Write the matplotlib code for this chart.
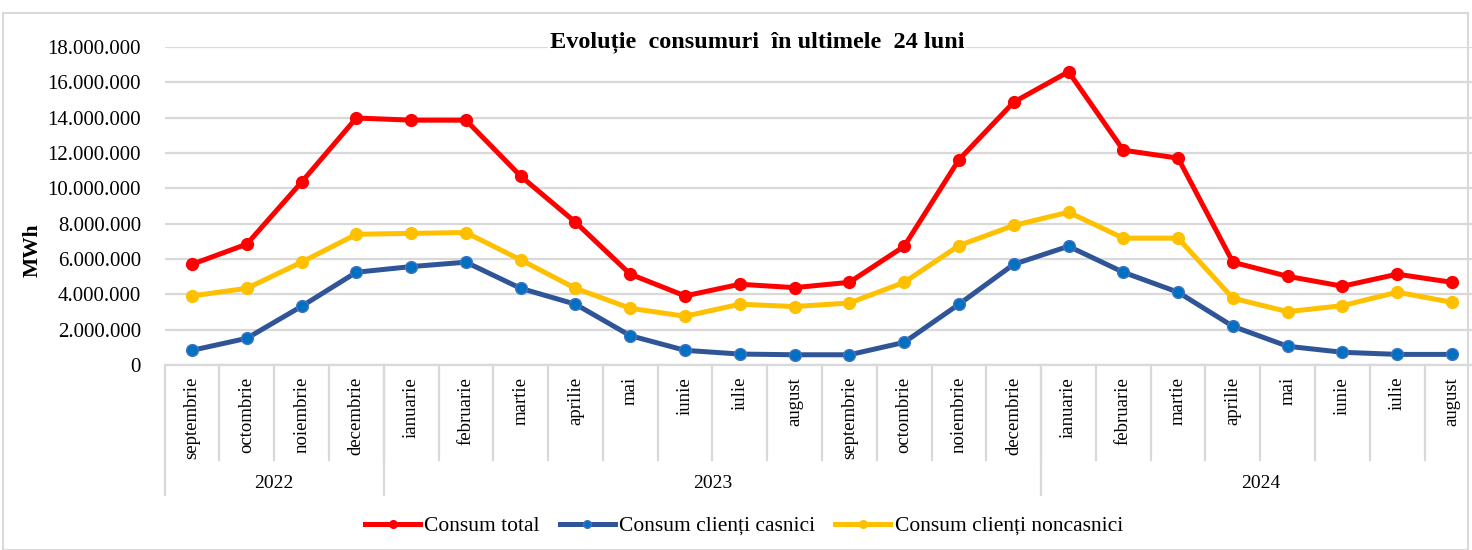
import numpy as np
import matplotlib
matplotlib.use('Agg')
import matplotlib.pyplot as plt
from matplotlib.patches import Rectangle
from matplotlib.lines import Line2D

plt.rcParams['font.family'] = ['Liberation Serif', 'DejaVu Serif']

# ── Données (MWh) ─────────────────────────────────────────────
luni = ["septembrie", "octombrie", "noiembrie", "decembrie",
        "ianuarie", "februarie", "martie", "aprilie", "mai", "iunie", "iulie", "august",
        "septembrie", "octombrie", "noiembrie", "decembrie",
        "ianuarie", "februarie", "martie", "aprilie", "mai", "iunie", "iulie", "august"]
ani = ["2022", "2023", "2024"]
luni_pe_an = [4, 12, 8]

consum_total = [5.70, 6.84, 10.35, 13.98, 13.86, 13.86, 10.69, 8.08, 5.14, 3.91, 4.57, 4.38,
                4.68, 6.72, 11.62, 14.88, 16.60, 12.16, 11.71, 5.82, 5.02, 4.46, 5.14, 4.68]
consum_casnici = [0.83, 1.51, 3.32, 5.25, 5.57, 5.82, 4.34, 3.44, 1.66, 0.83, 0.62, 0.58,
                  0.58, 1.28, 3.44, 5.70, 6.72, 5.25, 4.12, 2.19, 1.06, 0.72, 0.60, 0.60]
consum_noncasnici = [3.91, 4.34, 5.82, 7.40, 7.45, 7.50, 5.95, 4.34, 3.21, 2.76, 3.44, 3.31,
                     3.51, 4.68, 6.76, 7.90, 8.65, 7.18, 7.18, 3.78, 3.02, 3.36, 4.12, 3.55]

consum_total = np.array(consum_total) * 1e6
consum_casnici = np.array(consum_casnici) * 1e6
consum_noncasnici = np.array(consum_noncasnici) * 1e6

GRID = "#D9D9D9"
fig = plt.figure(figsize=(14.72, 5.5), dpi=100)
# la zone de tracé dépasse légèrement à droite (graphique rogné)
ax = fig.add_axes([164.6/1472, 1 - 365/550, (1479.4-164.6)/1472, (365-47)/550])

x = np.arange(len(luni))
ax.plot(x, consum_total, color="#FF0000", lw=3.6, marker="o", ms=8.5,
        mfc="#FF0000", mec="#FF0000", zorder=4)
ax.plot(x, consum_casnici, color="#2F5597", lw=3.6, marker="o", ms=8.5,
        mfc="#0070C0", mec="#4472C4", mew=1, zorder=4)
ax.plot(x, consum_noncasnici, color="#FFC000", lw=3.6, marker="o", ms=8.5,
        mfc="#FFC000", mec="#FFC000", zorder=4)

ax.set_xlim(-0.5, len(luni) - 0.5)
ax.set_ylim(0, 18e6)
ax.set_yticks(np.arange(0, 18e6 + 1, 2e6))
ax.set_yticklabels([f"{int(v):,}".replace(",", ".") for v in np.arange(0, 18e6 + 1, 2e6)],
                   fontsize=15)
ax.tick_params(axis="y", length=0, pad=17)
ax.set_xticks([])
ax.grid(axis="y", color=GRID, lw=1.6)
ax.set_axisbelow(True)
for s in ["top", "right", "left"]:
    ax.spines[s].set_visible(False)
ax.spines["bottom"].set_color(GRID)
ax.spines["bottom"].set_linewidth(1.6)

# axe catégoriel à deux niveaux (luni / ani)
tr = ax.get_xaxis_transform()
h_px = 365 - 47
y_luni = -(460 - 365) / h_px
y_ani = -(495 - 365) / h_px
for i, l in enumerate(luni):
    ax.text(i, -(377 - 365) / h_px, l, transform=tr, rotation=90,
            ha="center", va="top", fontsize=13.5)
for b in np.arange(0.5, len(luni) - 1, 1):
    ax.plot([b, b], [0, y_luni], transform=tr, color=GRID, lw=1.6, clip_on=False)
start = -0.5
for an, n in zip(ani, luni_pe_an):
    ax.plot([start, start], [0, y_ani], transform=tr, color=GRID, lw=1.6, clip_on=False)
    ax.text(start + n / 2, -(483 - 365) / h_px, an, transform=tr,
            ha="center", va="center", fontsize=14)
    start += n

fig.text(33/1472, 1 - 250/550, "MWh", rotation=90, ha="center", va="center",
         fontsize=15.5, fontweight="bold")
fig.text(757/1472, 1 - 42/550, "Evoluție  consumuri  în ultimele  24 luni",
         ha="center", va="center", fontsize=17.5, fontweight="bold",
         bbox=dict(facecolor="white", edgecolor="none", pad=1))

handles = [
    Line2D([], [], color="#FF0000", lw=3.6, marker="o", ms=5.5, mfc="#FF0000", mec="#FF0000"),
    Line2D([], [], color="#2F5597", lw=3.6, marker="o", ms=5.5, mfc="#0070C0", mec="#4472C4"),
    Line2D([], [], color="#FFC000", lw=3.6, marker="o", ms=5.5, mfc="#FFC000", mec="#FFC000"),
]
fig.legend(handles, ["Consum total", "Consum clienți casnici", "Consum clienți noncasnici"],
           loc="center", bbox_to_anchor=(744/1472, 1 - 526/550), ncol=3, frameon=False,
           fontsize=15.5, handlelength=2.55, handletextpad=0.2, columnspacing=0.93)

fig.add_artist(Rectangle((3/1472, 0.0), 1465/1472, 1 - 13/550, transform=fig.transFigure,
                         fill=False, edgecolor=GRID, lw=1.5))

plt.savefig("out.png", dpi=100)
plt.close()
